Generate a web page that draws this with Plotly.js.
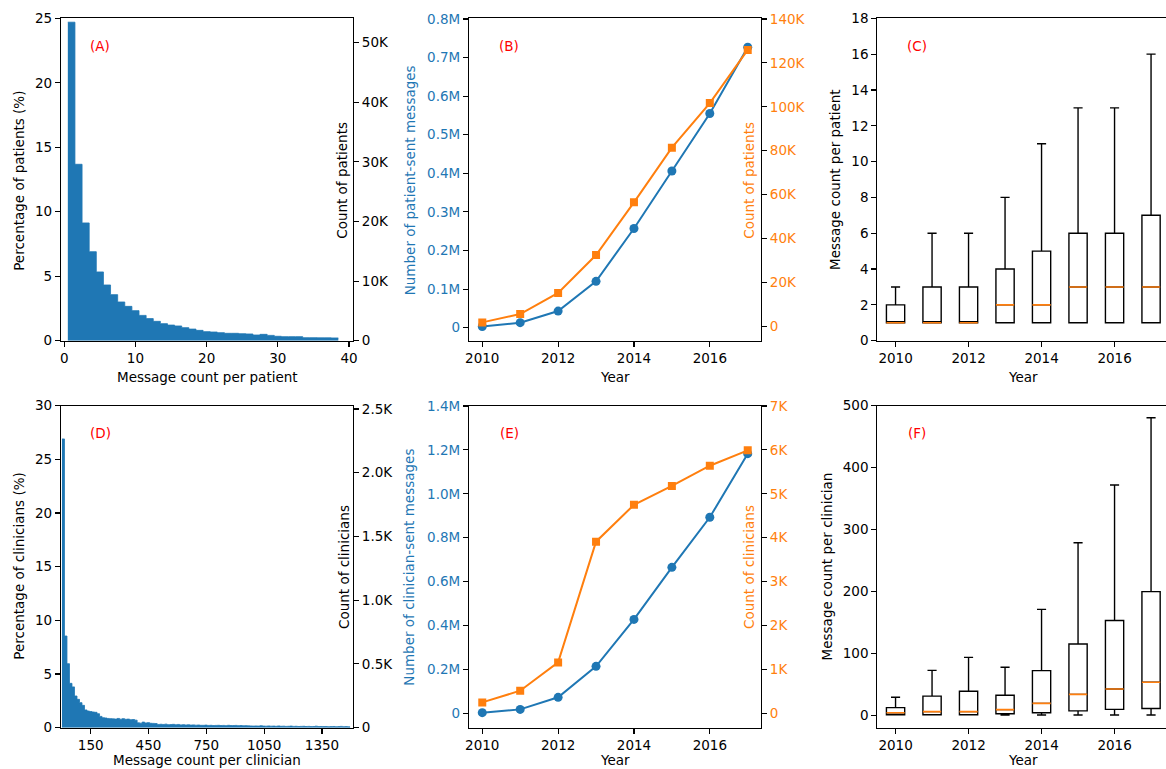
<!DOCTYPE html>
<html>
<head>
<meta charset="utf-8">
<script src="https://cdn.plot.ly/plotly-3.0.1.min.js"></script>
<style>
html,body{margin:0;padding:0;overflow:hidden;background:#fff;}
#chart{width:1172px;height:769px;}
</style>
</head>
<body>
<div id="chart"></div>
<script>
// ---------------- DATA ----------------
// (A) histogram: message count per patient (bins of width 1)
const patientMsgCount = [1,2,3,4,5,6,7,8,9,10,11,12,13,14,15,16,17,18,19,20,21,22,23,24,25,26,27,28,29,30,31,32,33,34,35,36,37,38];
const patientBinWidth = 1;
const patientPct = [24.7,13.68,9.13,6.9,5.33,4.32,3.57,3.0,2.66,2.33,1.96,1.71,1.50,1.32,1.21,1.14,1.01,0.90,0.80,0.70,0.67,0.62,0.57,0.57,0.54,0.52,0.44,0.49,0.41,0.34,0.31,0.31,0.31,0.23,0.23,0.22,0.22,0.21];

// (D) histogram: message count per clinician (bins of width 13 starting at 1)
const clinBinStart = 1;
const clinBinWidth = 13;
const clinicianPct = [26.9,8.54,5.96,4.13,3.80,2.95,2.64,2.33,2.08,1.65,1.55,1.50,1.46,1.43,1.30,1.05,0.93,0.90,0.86,0.84,
  0.82,0.80,0.86,0.79,0.84,0.78,0.80,0.74,0.76,0.70,0.45,0.42,0.52,0.44,0.47,0.41,0.40,0.38,0.30,0.32,
  0.30,0.33,0.28,0.29,0.31,0.27,0.30,0.26,0.28,0.25,0.27,0.24,0.26,0.23,0.25,0.22,0.22,0.24,0.21,0.22,
  0.20,0.21,0.22,0.20,0.21,0.19,0.22,0.20,0.20,0.21,0.19,0.20,0.18,0.19,0.17,0.16,0.15,0.16,0.15,0.18,
  0.15,0.14,0.16,0.14,0.15,0.13,0.16,0.13,0.14,0.12,0.13,0.15,0.12,0.13,0.11,0.12,0.13,0.11,0.12,0.10,
  0.11,0.14,0.10,0.11,0.10,0.11,0.09,0.10,0.11,0.09,0.10,0.12,0.09,0.10,0.08];

// (B)/(E) yearly totals
const years = [2010,2011,2012,2013,2014,2015,2016,2017];
const patientSentMsgs = [3000,13000,43000,120000,257000,406000,555000,727000];
const patientCount = [1800,5600,15200,32500,56500,81400,101700,125900];
const clinicianSentMsgs = [3000,18000,73000,214000,428000,665000,893000,1183000];
const clinicianCount = [250,516,1160,3910,4750,5180,5640,5990];

// (C) box plot: message count per patient
const cLow = [1,1,1,1,1,1,1,1];
const cQ1  = [1,1,1,1,1,1,1,1];
const cMed = [1,1,1,2,2,3,3,3];
const cQ3  = [2,3,3,4,5,6,6,7];
const cHigh= [3,6,6,8,11,13,13,16];

// (F) box plot: message count per clinician
const fLow = [1.5,1.5,1.5,1,1,1,1,1];
const fQ1  = [1.5,1.5,1.5,3.2,4.8,7.8,10.2,11.5];
const fMed = [4.8,6.5,6.5,9.7,19.9,34.4,43,54];
const fQ3  = [12.9,31.5,39.5,33,72.6,115.6,153.5,200];
const fHigh= [29.6,73,94,78,171.5,279,372,480.6];

// tick labels
const aRightTickVals = [0,10000,20000,30000,40000,50000];
const aRightTickText = ['0','10K','20K','30K','40K','50K'];
const dRightTickVals = [0,500,1000,1500,2000,2500];
const dRightTickText = ['0','0.5K','1.0K','1.5K','2.0K','2.5K'];
const dXTickVals = [150,450,750,1050,1350];
const bLeftTickVals = [0,100000,200000,300000,400000,500000,600000,700000,800000];
const bLeftTickText = ['0','0.1M','0.2M','0.3M','0.4M','0.5M','0.6M','0.7M','0.8M'];
const bRightTickVals = [0,20000,40000,60000,80000,100000,120000,140000];
const bRightTickText = ['0','20K','40K','60K','80K','100K','120K','140K'];
const eLeftTickVals = [0,200000,400000,600000,800000,1000000,1200000,1400000];
const eLeftTickText = ['0','0.2M','0.4M','0.6M','0.8M','1.0M','1.2M','1.4M'];
const eRightTickVals = [0,1000,2000,3000,4000,5000,6000,7000];
const eRightTickText = ['0','1K','2K','3K','4K','5K','6K','7K'];
const yearTicks = [2010,2012,2014,2016];

// ---------------- STYLE / LAYOUT ----------------
const W = 1172, H = 769;
const BLUE = '#1f77b4', ORANGE = '#ff7f0e';
const FONT = 'DejaVu Sans';
const FS = 13.5;
const px = v => v / W;
const py = v => 1 - v / H;

const colA = [px(61), px(353)];
const colB = [px(469), px(761)];
const colC = [px(877.3), px(1169.3)];
const row1 = [py(340.67), py(18.33)];
const row2 = [py(727.67), py(405.67)];

function ax(extra) {
  return Object.assign({
    showline: true, linecolor: '#000', linewidth: 1.1,
    ticks: 'outside', ticklen: 5, tickwidth: 1.1, tickcolor: '#000',
    showgrid: false, zeroline: false, fixedrange: true,
    tickfont: {family: FONT, size: FS, color: '#000'}
  }, extra);
}

// stepfilled histogram outline: bin edges + values (last value repeated to close the final bin)
function stepX(edgesStart, width, n) {
  const xs = [];
  for (let i = 0; i <= n; i++) xs.push(edgesStart + width * i);
  return xs;
}
function stepY(vals) { return vals.concat([vals[vals.length - 1]]); }

const aEdgesX = stepX(patientMsgCount[0] - patientBinWidth / 2, patientBinWidth, patientPct.length);
const dEdgesX = stepX(clinBinStart, clinBinWidth, clinicianPct.length);

const traces = [
  // (A)
  {type: 'scatter', mode: 'lines', x: aEdgesX, y: stepY(patientPct), xaxis: 'x', yaxis: 'y',
   line: {shape: 'hv', color: BLUE, width: 0.8}, fill: 'tozeroy', fillcolor: BLUE},
  {type: 'scatter', x: [], y: [], xaxis: 'x', yaxis: 'y2', showlegend: false},
  // (B)
  {type: 'scatter', mode: 'lines+markers', x: years, y: patientSentMsgs, xaxis: 'x2', yaxis: 'y3',
   line: {color: BLUE, width: 2}, marker: {symbol: 'circle', size: 9, color: BLUE}},
  {type: 'scatter', mode: 'lines+markers', x: years, y: patientCount, xaxis: 'x2', yaxis: 'y4',
   line: {color: ORANGE, width: 2}, marker: {symbol: 'square', size: 8, color: ORANGE}},
  // (C)
  {type: 'box', x: years, q1: cQ1, median: cMed, q3: cQ3, lowerfence: cLow, upperfence: cHigh,
   xaxis: 'x3', yaxis: 'y5', width: 0.5, whiskerwidth: 0.5, boxpoints: false,
   line: {color: '#000', width: 1.4}, fillcolor: 'rgba(0,0,0,0)'},
  {type: 'box', x: years, q1: cMed, median: cMed, q3: cMed, lowerfence: cMed, upperfence: cMed,
   xaxis: 'x3', yaxis: 'y5', width: 0.5, whiskerwidth: 0, boxpoints: false,
   line: {color: ORANGE, width: 1.6}, fillcolor: 'rgba(0,0,0,0)'},
  // (D)
  {type: 'scatter', mode: 'lines', x: dEdgesX, y: stepY(clinicianPct), xaxis: 'x4', yaxis: 'y6',
   line: {shape: 'hv', color: BLUE, width: 0.8}, fill: 'tozeroy', fillcolor: BLUE},
  {type: 'scatter', x: [], y: [], xaxis: 'x4', yaxis: 'y7', showlegend: false},
  // (E)
  {type: 'scatter', mode: 'lines+markers', x: years, y: clinicianSentMsgs, xaxis: 'x5', yaxis: 'y8',
   line: {color: BLUE, width: 2}, marker: {symbol: 'circle', size: 9, color: BLUE}},
  {type: 'scatter', mode: 'lines+markers', x: years, y: clinicianCount, xaxis: 'x5', yaxis: 'y9',
   line: {color: ORANGE, width: 2}, marker: {symbol: 'square', size: 8, color: ORANGE}},
  // (F)
  {type: 'box', x: years, q1: fQ1, median: fMed, q3: fQ3, lowerfence: fLow, upperfence: fHigh,
   xaxis: 'x6', yaxis: 'y10', width: 0.5, whiskerwidth: 0.5, boxpoints: false,
   line: {color: '#000', width: 1.4}, fillcolor: 'rgba(0,0,0,0)'},
  {type: 'box', x: years, q1: fMed, median: fMed, q3: fMed, lowerfence: fMed, upperfence: fMed,
   xaxis: 'x6', yaxis: 'y10', width: 0.5, whiskerwidth: 0, boxpoints: false,
   line: {color: ORANGE, width: 1.6}, fillcolor: 'rgba(0,0,0,0)'}
];

function ann(text, x, y, opts) {
  return Object.assign({text: text, x: px(x), y: py(y), xref: 'paper', yref: 'paper',
    xanchor: 'center', yanchor: 'middle', showarrow: false,
    font: {family: FONT, size: FS, color: '#000'}}, opts || {});
}
const rot = {textangle: -90};
const red = {font: {family: FONT, size: FS, color: 'red'}};

const annotations = [
  ann('(A)', 100, 46, red),
  ann('(B)', 509, 46, red),
  ann('(C)', 917, 46, red),
  ann('(D)', 100, 433, red),
  ann('(E)', 509, 433, red),
  ann('(F)', 917, 433, red),
  // x titles
  ann('Message count per patient', 207, 376.7),
  ann('Year', 615, 376.7),
  ann('Year', 1023, 376.7),
  ann('Message count per clinician', 207, 759.5),
  ann('Year', 615, 759.5),
  ann('Year', 1023, 759.5),
  // y titles
  ann('Percentage of patients (%)', 19, 180.8, rot),
  ann('Count of patients', 342, 180.8, rot),
  ann('Number of patient-sent messages', 409.5, 180.8, Object.assign({font: {family: FONT, size: FS, color: BLUE}}, rot)),
  ann('Count of patients', 749, 180.8, Object.assign({font: {family: FONT, size: FS, color: ORANGE}}, rot)),
  ann('Message count per patient', 835, 180, rot),
  ann('Percentage of clinicians (%)', 19, 566.7, rot),
  ann('Count of clinicians', 343.3, 566.7, rot),
  ann('Number of clinician-sent messages', 409, 566.7, Object.assign({font: {family: FONT, size: FS, color: BLUE}}, rot)),
  ann('Count of clinicians', 748.3, 566.7, Object.assign({font: {family: FONT, size: FS, color: ORANGE}}, rot)),
  ann('Message count per clinician', 826.7, 566.7, rot)
];

const layout = {
  width: W, height: H, margin: {l: 0, r: 0, t: 0, b: 0, pad: 0},
  paper_bgcolor: '#fff', plot_bgcolor: '#fff', showlegend: false,
  boxmode: 'overlay', hovermode: false,
  font: {family: FONT, size: FS, color: '#000'},
  annotations: annotations,
  // (A)
  xaxis: ax({domain: colA, anchor: 'y', range: [-0.46, 40.56], tickvals: [0,10,20,30,40], mirror: true}),
  yaxis: ax({domain: row1, anchor: 'x', range: [0, 25], tickvals: [0,5,10,15,20,25]}),
  yaxis2: ax({overlaying: 'y', side: 'right', anchor: 'x', range: [0, 54100],
    tickvals: aRightTickVals, ticktext: aRightTickText}),
  // (B)
  xaxis2: ax({domain: colB, anchor: 'y3', range: [2009.65, 2017.35], tickvals: yearTicks, mirror: true}),
  yaxis3: ax({domain: row1, anchor: 'x2', range: [-33700, 801700], tickvals: bLeftTickVals, ticktext: bLeftTickText,
    tickfont: {family: FONT, size: FS, color: BLUE}}),
  yaxis4: ax({overlaying: 'y3', side: 'right', anchor: 'x2', range: [-6530, 140300],
    tickvals: bRightTickVals, ticktext: bRightTickText, tickfont: {family: FONT, size: FS, color: ORANGE}}),
  // (C)
  xaxis3: ax({domain: colC, anchor: 'y5', range: [2009.5, 2017.5], tickvals: yearTicks, mirror: true}),
  yaxis5: ax({domain: row1, anchor: 'x3', range: [0, 18], tickvals: [0,2,4,6,8,10,12,14,16,18], mirror: true}),
  // (D)
  xaxis4: ax({domain: colA, anchor: 'y6', range: [-4, 1511], tickvals: dXTickVals, mirror: true}),
  yaxis6: ax({domain: row2, anchor: 'x4', range: [0, 30], tickvals: [0,5,10,15,20,25,30]}),
  yaxis7: ax({overlaying: 'y6', side: 'right', anchor: 'x4', range: [0, 2526],
    tickvals: dRightTickVals, ticktext: dRightTickText}),
  // (E)
  xaxis5: ax({domain: colB, anchor: 'y8', range: [2009.65, 2017.35], tickvals: yearTicks, mirror: true}),
  yaxis8: ax({domain: row2, anchor: 'x5', range: [-65300, 1401500], tickvals: eLeftTickVals, ticktext: eLeftTickText,
    tickfont: {family: FONT, size: FS, color: BLUE}}),
  yaxis9: ax({overlaying: 'y8', side: 'right', anchor: 'x5', range: [-326, 7007],
    tickvals: eRightTickVals, ticktext: eRightTickText, tickfont: {family: FONT, size: FS, color: ORANGE}}),
  // (F)
  xaxis6: ax({domain: colC, anchor: 'y10', range: [2009.5, 2017.5], tickvals: yearTicks, mirror: true}),
  yaxis10: ax({domain: row2, anchor: 'x6', range: [-19.35, 500], tickvals: [0,100,200,300,400,500], mirror: true})
};

Plotly.newPlot('chart', traces, layout, {staticPlot: true, displayModeBar: false});
</script>
</body>
</html>
